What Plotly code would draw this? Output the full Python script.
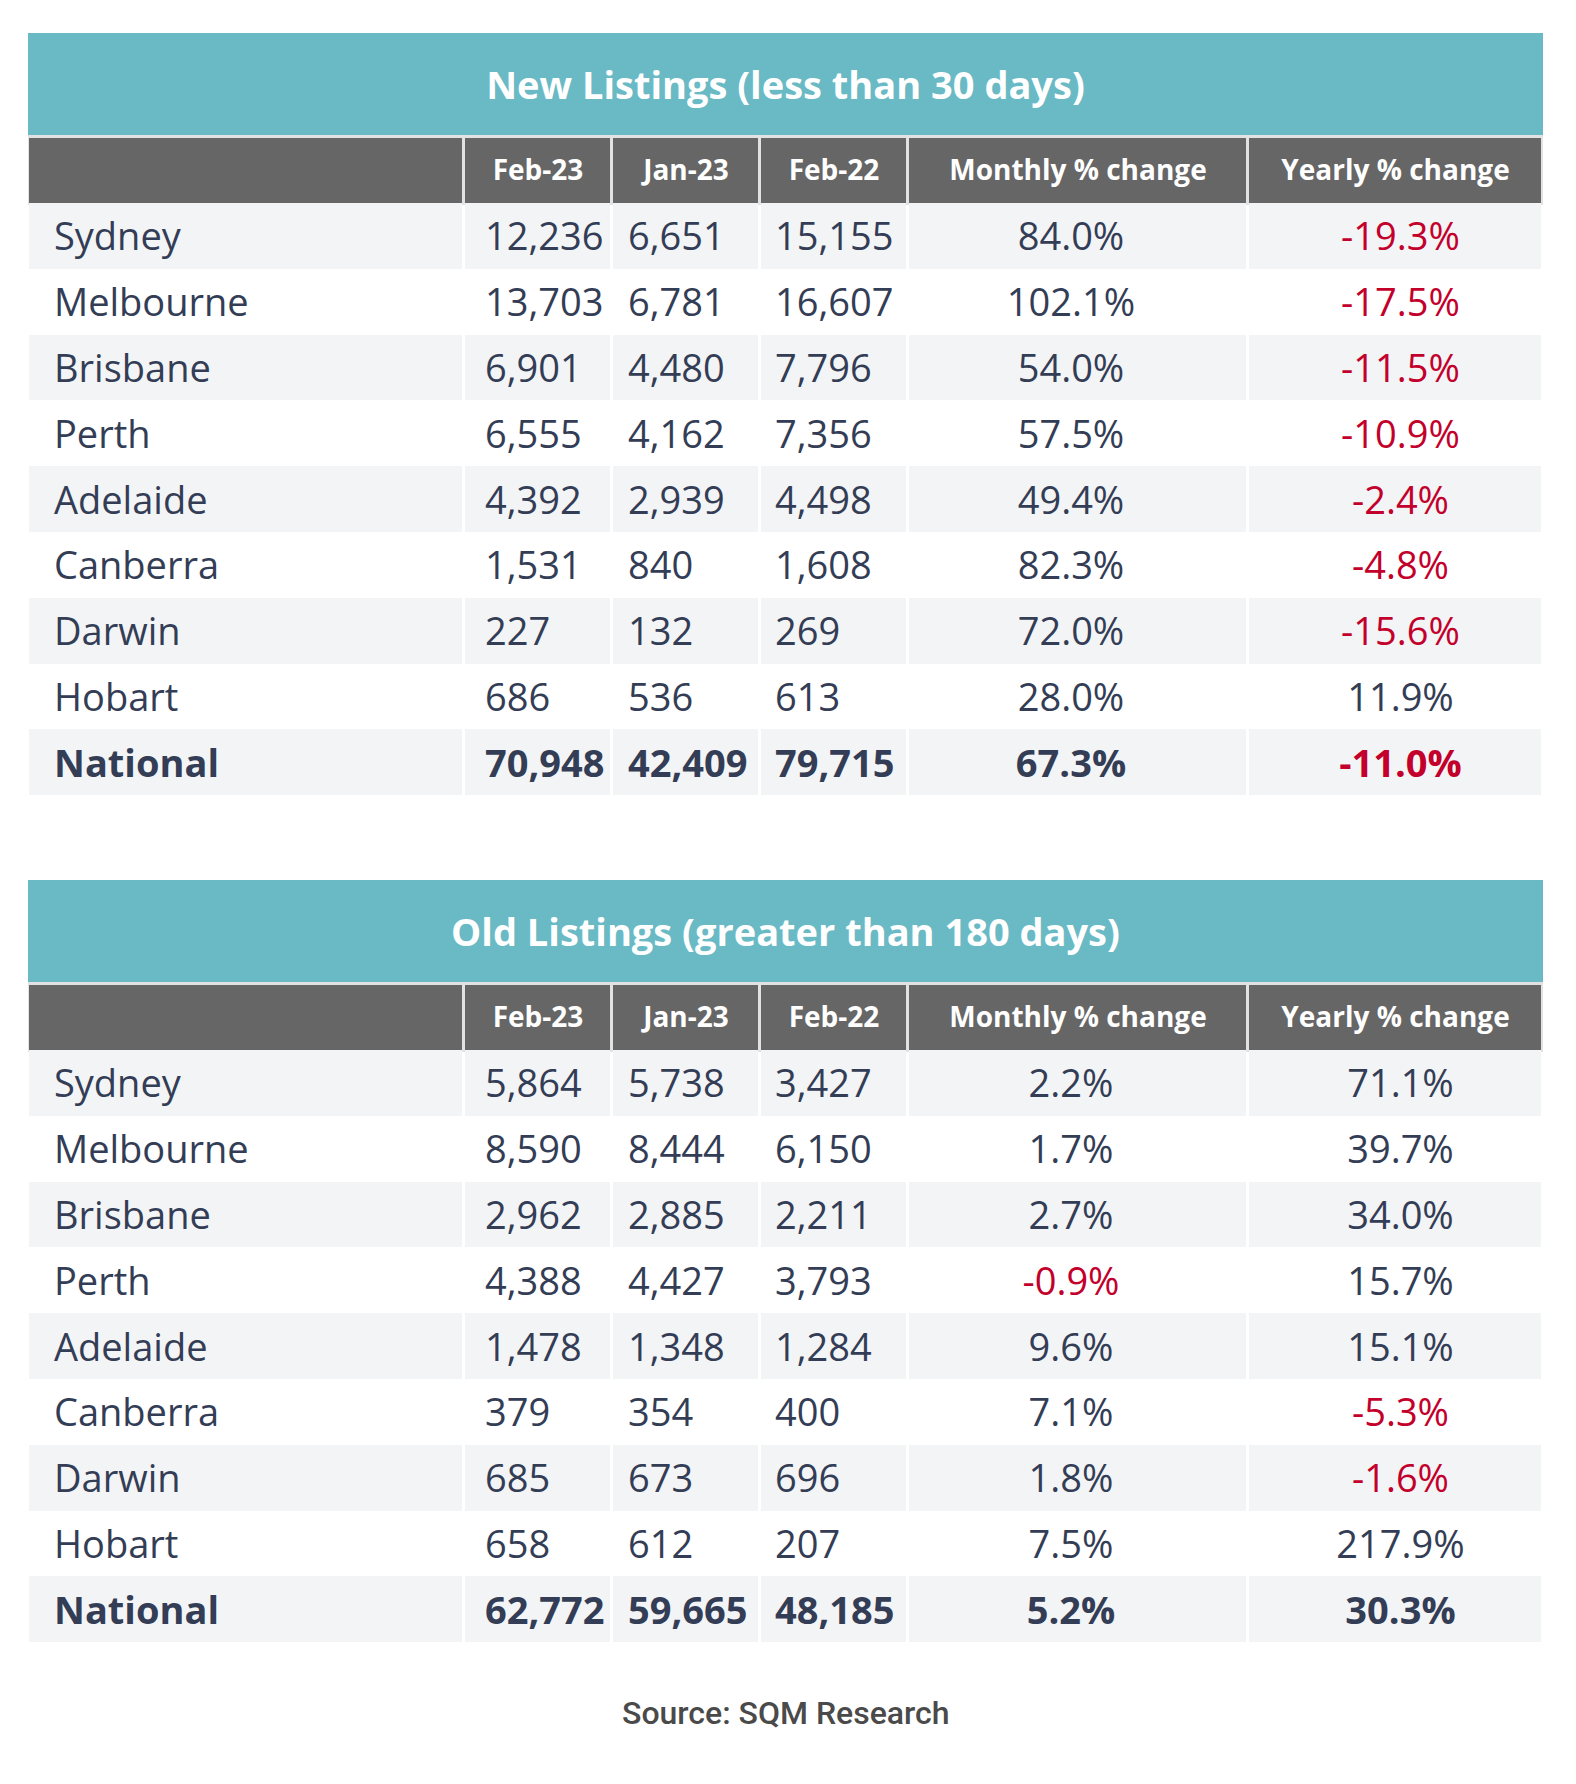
import plotly.graph_objects as go

W, H = 1576, 1784

cities = ["Sydney", "Melbourne", "Brisbane", "Perth", "Adelaide", "Canberra", "Darwin", "Hobart", "National"]
col_headers = ["", "Feb-23", "Jan-23", "Feb-22", "Monthly % change", "Yearly % change"]

new_title = "New Listings (less than 30 days)"
new_feb23 = [12236, 13703, 6901, 6555, 4392, 1531, 227, 686, 70948]
new_jan23 = [6651, 6781, 4480, 4162, 2939, 840, 132, 536, 42409]
new_feb22 = [15155, 16607, 7796, 7356, 4498, 1608, 269, 613, 79715]
new_monthly = [84.0, 102.1, 54.0, 57.5, 49.4, 82.3, 72.0, 28.0, 67.3]
new_yearly = [-19.3, -17.5, -11.5, -10.9, -2.4, -4.8, -15.6, 11.9, -11.0]

old_title = "Old Listings (greater than 180 days)"
old_feb23 = [5864, 8590, 2962, 4388, 1478, 379, 685, 658, 62772]
old_jan23 = [5738, 8444, 2885, 4427, 1348, 354, 673, 612, 59665]
old_feb22 = [3427, 6150, 2211, 3793, 1284, 400, 696, 207, 48185]
old_monthly = [2.2, 1.7, 2.7, -0.9, 9.6, 7.1, 1.8, 7.5, 5.2]
old_yearly = [71.1, 39.7, 34.0, 15.7, 15.1, -5.3, -1.6, 217.9, 30.3]

source_text = "Source: SQM Research"

# ---- styling / layout constants ----
TEAL = "#69BAC5"
GREY = "#666666"
SEP = "#E2E2E2"
BAND = "#F3F4F6"
NAVY = "#333D55"
RED = "#C3002B"
FONT = "Open Sans"

X0 = 28
col_widths = [436, 148, 148, 148, 340, 295]
text_pad = [26, 21, 16, 15, None, None]   # None -> centred
centre_shift = [0, 0, 0, 0, -7, 5]
TITLE_H, GAP, HEAD_H, ROW_H = 102, 3, 65, 65.8
DY_TITLE, DY_HEAD, DY_BODY = 5, 2, 5

col_edges = [X0]
for w in col_widths:
    col_edges.append(col_edges[-1] + w)
X1 = col_edges[-1]
col_centres = [(col_edges[i] + col_edges[i + 1]) / 2 for i in range(len(col_widths))]


def solid(c):
    return [[0, c], [1, c]]


def txt(v, last):
    return f"<b>{v}</b>" if last else v


def add_block(fig, top, title, feb23, jan23, feb22, monthly, yearly):
    n = len(cities)
    t_bot = top + TITLE_H
    h_top = t_bot + GAP
    h_bot = h_top + HEAD_H
    row_edges = [h_bot + i * ROW_H for i in range(n + 1)]
    row_mid = [(row_edges[i] + row_edges[i + 1]) / 2 + DY_BODY for i in range(n)]

    common = dict(showscale=False, hoverinfo="skip", zmin=0, zmax=1)
    # title bar
    fig.add_trace(go.Heatmap(x=[X0, X1], y=[top, t_bot], z=[[1]], colorscale=solid(TEAL), **common))
    # separator background for header
    fig.add_trace(go.Heatmap(x=[X0, X1], y=[t_bot, h_bot + 1.5], z=[[1]], colorscale=solid(SEP), **common))
    # header cells
    fig.add_trace(go.Heatmap(x=col_edges, y=[h_top, h_bot], z=[[1] * len(col_widths)],
                             colorscale=solid(GREY), xgap=3, **common))
    # body cells (banded)
    fig.add_trace(go.Heatmap(x=col_edges, y=row_edges,
                             z=[[1 if i % 2 == 0 else 0] * len(col_widths) for i in range(n)],
                             colorscale=[[0, "white"], [1, BAND]], xgap=3, **common))

    # title text
    fig.add_trace(go.Scatter(x=[(X0 + X1) / 2], y=[(top + t_bot) / 2 + DY_TITLE], mode="text",
                             text=[f"<b>{title}</b>"], textposition="middle center",
                             textfont=dict(family=FONT, size=38, color="white"), hoverinfo="skip"))
    # header text
    fig.add_trace(go.Scatter(x=col_centres[1:], y=[(h_top + h_bot) / 2 + DY_HEAD] * (len(col_headers) - 1),
                             mode="text", text=[f"<b>{h}</b>" for h in col_headers[1:]],
                             textposition="middle center",
                             textfont=dict(family=FONT, size=28, color="white"), hoverinfo="skip"))

    columns = [
        (list(cities), [NAVY] * n),
        ([f"{v:,}" for v in feb23], [NAVY] * n),
        ([f"{v:,}" for v in jan23], [NAVY] * n),
        ([f"{v:,}" for v in feb22], [NAVY] * n),
        ([f"{v:.1f}%" for v in monthly], [RED if v < 0 else NAVY for v in monthly]),
        ([f"{v:.1f}%" for v in yearly], [RED if v < 0 else NAVY for v in yearly]),
    ]
    for ci, (vals, colors) in enumerate(columns):
        pad = text_pad[ci]
        if pad is None:
            xs = [col_centres[ci] + centre_shift[ci]] * n
            pos = "middle center"
        else:
            xs = [col_edges[ci] + pad] * n
            pos = "middle right"
        fig.add_trace(go.Scatter(x=xs, y=row_mid, mode="text",
                                 text=[txt(v, i == n - 1) for i, v in enumerate(vals)],
                                 textposition=pos,
                                 textfont=dict(family=FONT, size=38, color=colors),
                                 hoverinfo="skip"))


fig = go.Figure()
add_block(fig, 33, new_title, new_feb23, new_jan23, new_feb22, new_monthly, new_yearly)
add_block(fig, 880, old_title, old_feb23, old_jan23, old_feb22, old_monthly, old_yearly)

fig.add_annotation(x=(X0 + X1) / 2, y=1713, xref="x", yref="y", text=source_text,
                   showarrow=False, xanchor="center", yanchor="middle",
                   font=dict(family="Roboto", size=32, color="#4A4A4A", weight=500))

fig.update_xaxes(range=[0, W], visible=False, fixedrange=True, showgrid=False, zeroline=False)
fig.update_yaxes(range=[H, 0], visible=False, fixedrange=True, showgrid=False, zeroline=False)
fig.update_layout(width=W, height=H, margin=dict(l=0, r=0, t=0, b=0, pad=0),
                  paper_bgcolor="white", plot_bgcolor="white", showlegend=False)
fig.write_html("out.html", config={"displayModeBar": False},
               post_script="document.body.style.margin='0px';")
